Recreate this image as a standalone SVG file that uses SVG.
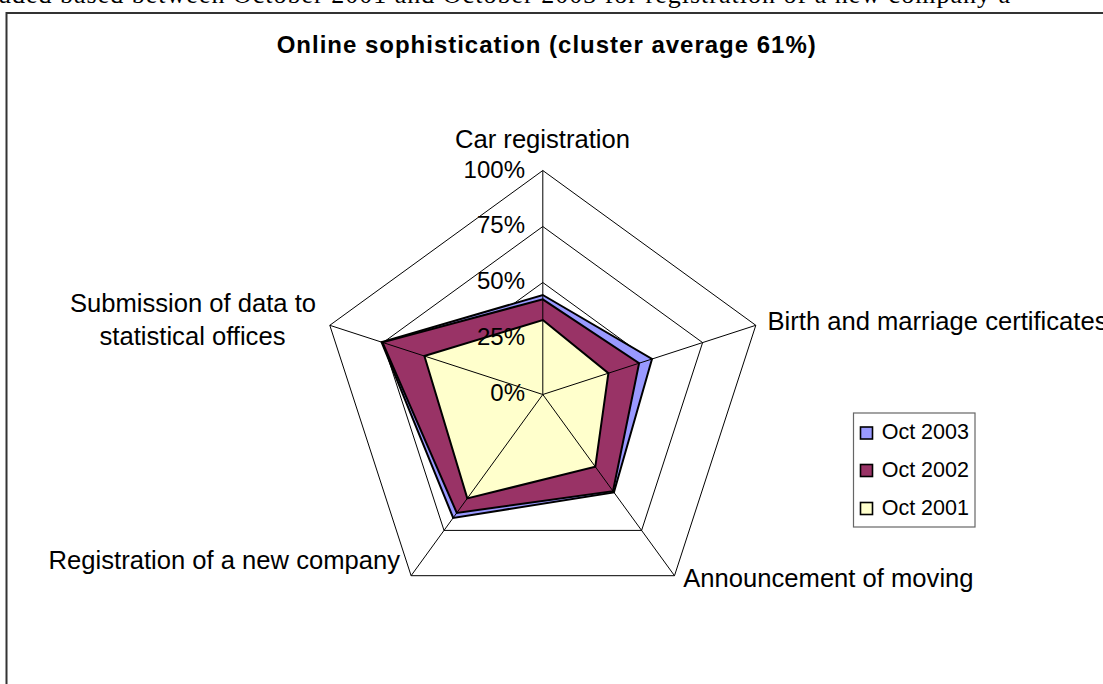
<svg xmlns="http://www.w3.org/2000/svg" width="1103" height="684" viewBox="0 0 1103 684">
<style>
.lbl{font-family:"Liberation Sans",Arial,sans-serif;font-size:25.6px;fill:#000}
.tick{font-family:"Liberation Sans",Arial,sans-serif;font-size:24px;fill:#000;text-anchor:end}
.leg{font-family:"Liberation Sans",Arial,sans-serif;font-size:21.5px;fill:#000}
.ring{fill:none;stroke:#000;stroke-width:1}
.spoke{stroke:#000;stroke-width:1}
.series{stroke:#000;stroke-width:2;stroke-linejoin:miter}
.sw{stroke:#000;stroke-width:1.6}
</style>
<rect x="0" y="0" width="1103" height="684" fill="#fff"/>
<text x="-2" y="2.5" font-family="'Liberation Serif','Times New Roman',serif" font-size="26" textLength="1012" lengthAdjust="spacing">uded based between  October 2001 and October 2003 for registration of a new company a</text>
<rect x="6.5" y="13" width="1200" height="800" fill="#fff" stroke="#333" stroke-width="2"/>
<text id="title" x="276.7" y="53.3" font-family="'Liberation Sans',Arial,sans-serif" font-size="24" font-weight="bold" textLength="539" lengthAdjust="spacing">Online sophistication (cluster average 61%)</text>
<g id="grid">
<polygon class="ring" points="542.8,338.5 596.1,377.2 575.7,439.8 509.9,439.8 489.5,377.2"/>
<polygon class="ring" points="542.8,282.5 649.3,359.9 608.6,485.1 477.0,485.1 436.3,359.9"/>
<polygon class="ring" points="542.8,226.5 702.6,342.6 641.6,530.4 444.0,530.4 383.0,342.6"/>
<polygon class="ring" points="542.8,170.5 755.8,325.3 674.5,575.7 411.1,575.7 329.8,325.3"/>
</g>
<g id="series-2003"><polygon class="series" fill="#9999FF" points="542.8,295.0 652.0,359.0 613.9,492.4 453.2,517.9 381.6,342.1"/></g>
<g id="series-2002"><polygon class="series" fill="#993366" points="542.8,299.3 639.1,363.2 613.0,491.2 456.8,512.9 382.5,342.4"/></g>
<g id="series-2001"><polygon class="series" fill="#FFFFCC" points="542.8,320.0 608.4,373.2 595.3,466.8 467.3,498.4 424.4,356.0"/></g>
<g id="connectors">
<line class="spoke" x1="542.8" y1="394.5" x2="542.8" y2="170.5"/>
<line class="spoke" x1="542.8" y1="394.5" x2="755.8" y2="325.3"/>
<line class="spoke" x1="542.8" y1="394.5" x2="674.5" y2="575.7"/>
<line class="spoke" x1="542.8" y1="394.5" x2="411.1" y2="575.7"/>
<line class="spoke" x1="542.8" y1="394.5" x2="329.8" y2="325.3"/>
</g>
<g id="ticks">
<text class="tick" x="525" y="178">100%</text>
<text class="tick" x="525" y="233">75%</text>
<text class="tick" x="525" y="289">50%</text>
<text class="tick" x="525" y="345">25%</text>
<text class="tick" x="525" y="401">0%</text>
</g>
<g id="cat-car"><text class="lbl" x="542.5" y="148" text-anchor="middle">Car registration</text></g>
<g id="cat-birth"><text class="lbl" x="767.5" y="330">Birth and marriage certificates</text></g>
<g id="cat-moving"><text class="lbl" x="683.3" y="586.7">Announcement of moving</text></g>
<g id="cat-company"><text class="lbl" x="400" y="569" text-anchor="end">Registration of a new company</text></g>
<g id="cat-submission"><text class="lbl" x="193" y="312" text-anchor="middle">Submission of data to</text><text class="lbl" x="192.5" y="345" text-anchor="middle">statistical offices</text></g>
<g id="legend">
<rect x="853.5" y="413" width="121.5" height="114" fill="#fff" stroke="#666" stroke-width="1.2"/>
<rect class="sw" x="860.5" y="427" width="12" height="12" fill="#9999FF"/>
<text class="leg" x="881.7" y="439">Oct 2003</text>
<rect class="sw" x="860.5" y="464.5" width="12" height="12" fill="#993366"/>
<text class="leg" x="881.7" y="476.7">Oct 2002</text>
<rect class="sw" x="860.5" y="502.5" width="12" height="12" fill="#FFFFCC"/>
<text class="leg" x="881.7" y="515">Oct 2001</text>
</g>
</svg>
